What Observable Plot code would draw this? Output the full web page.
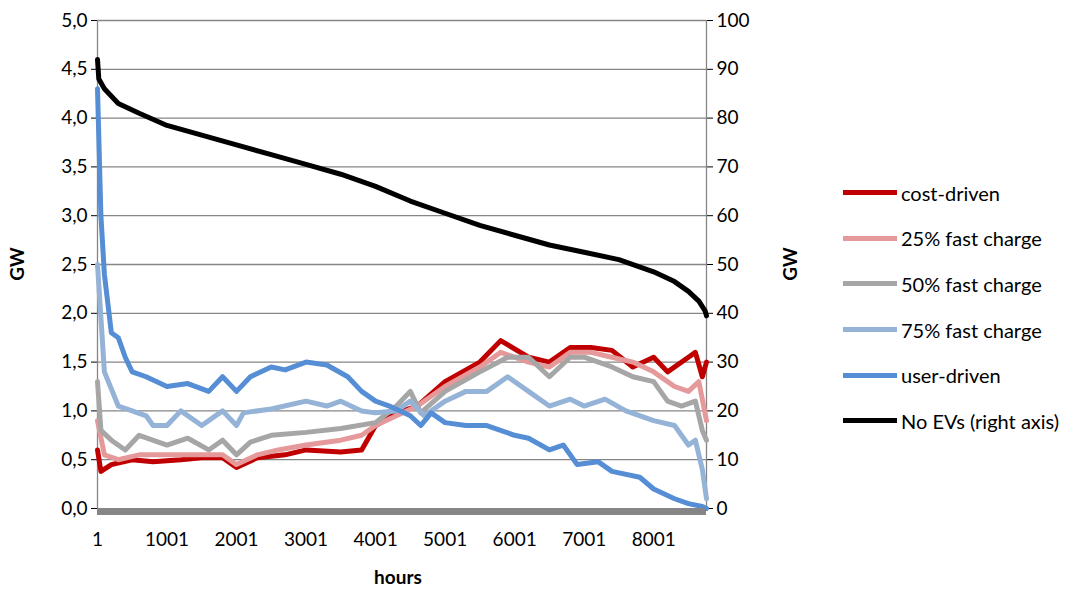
<!DOCTYPE html>
<html>
<head>
<meta charset="utf-8">
<script src="https://cdn.jsdelivr.net/npm/d3@7"></script>
<script src="https://cdn.jsdelivr.net/npm/@observablehq/plot@0.6"></script>
<style>
  body { margin: 0; background: #fff; font-family: Lato, "Open Sans", sans-serif; }
  #wrap { position: relative; width: 1089px; height: 590px; }
  #legend { position: absolute; left: 843px; top: 170px; font-size: 20px; color: #000; }
  .row { display: flex; align-items: center; height: 45.6px; }
  .sw { width: 54px; height: 5px; margin-right: 4px; }
</style>
</head>
<body>
<div id="wrap"><div id="legend"></div></div>
<script>
// hours vs GW for each scenario
const costHours = [1,50,200,500,800,1200,1500,1800,2000,2300,2700,3000,3500,3800,4000,4300,4600,5000,5500,5800,6200,6500,6800,7100,7400,7700,8000,8200,8500,8600,8700,8760];
const costGW    = [0.6,0.38,0.45,0.5,0.48,0.5,0.52,0.52,0.42,0.52,0.55,0.6,0.58,0.6,0.85,0.98,1.05,1.3,1.5,1.72,1.55,1.5,1.65,1.65,1.62,1.45,1.55,1.4,1.55,1.6,1.35,1.5];
const fc25Hours = [1,100,300,600,1000,1500,1800,2000,2300,2600,3000,3500,3800,4000,4300,4600,5000,5500,5800,6200,6500,6800,7100,7400,7700,8000,8300,8500,8650,8760];
const fc25GW    = [0.9,0.55,0.5,0.55,0.55,0.55,0.55,0.45,0.55,0.6,0.65,0.7,0.75,0.85,0.95,1.05,1.25,1.45,1.6,1.5,1.45,1.6,1.6,1.55,1.5,1.4,1.25,1.2,1.3,0.9];
const fc50Hours = [1,50,200,400,600,1000,1300,1600,1800,2000,2200,2500,3000,3500,4000,4300,4500,4650,5000,5500,5900,6200,6500,6800,7000,7400,7700,8000,8200,8400,8600,8700,8760];
const fc50GW    = [1.3,0.8,0.7,0.6,0.75,0.65,0.72,0.6,0.7,0.55,0.68,0.75,0.78,0.82,0.88,1.05,1.2,0.98,1.2,1.4,1.55,1.55,1.35,1.55,1.55,1.45,1.35,1.3,1.1,1.05,1.1,0.8,0.7];
const fc75Hours = [1,100,300,500,700,800,1000,1200,1500,1800,2000,2100,2500,3000,3300,3500,3800,4000,4300,4500,4700,5000,5300,5600,5900,6200,6500,6800,7000,7300,7600,8000,8300,8500,8600,8700,8760];
const fc75GW    = [2.5,1.4,1.05,1.0,0.95,0.85,0.85,1.0,0.85,1.0,0.85,0.98,1.02,1.1,1.05,1.1,1.0,0.98,1.0,1.1,0.95,1.1,1.2,1.2,1.35,1.2,1.05,1.12,1.05,1.12,1.0,0.9,0.85,0.65,0.7,0.4,0.1];
const userHours = [1,50,100,200,300,400,500,700,1000,1300,1600,1800,2000,2200,2500,2700,3000,3300,3600,3800,4000,4200,4500,4650,4800,5000,5300,5600,6000,6200,6500,6700,6900,7200,7400,7800,8000,8300,8500,8700,8760];
const userGW    = [4.3,3.0,2.4,1.8,1.75,1.55,1.4,1.35,1.25,1.28,1.2,1.35,1.2,1.35,1.45,1.42,1.5,1.47,1.35,1.2,1.1,1.05,0.95,0.85,0.98,0.88,0.85,0.85,0.75,0.72,0.6,0.65,0.45,0.48,0.38,0.32,0.2,0.1,0.05,0.02,0];
// No EVs, right axis (GW, 0-100)
const noEvHours = [1,20,100,300,600,1000,1500,2000,2500,3000,3500,4000,4500,5000,5500,6000,6500,7000,7500,8000,8300,8500,8650,8740,8760];
const noEvGW    = [92,88,86,83,81,78.5,76.5,74.5,72.5,70.5,68.5,66,63,60.5,58,56,54,52.5,51,48.5,46.5,44.5,42.5,40.5,39.5];

const series = [
  {name: "cost-driven", color: "#c00000", h: costHours, v: costGW},
  {name: "25% fast charge", color: "#e6999a", h: fc25Hours, v: fc25GW},
  {name: "50% fast charge", color: "#a6a6a6", h: fc50Hours, v: fc50GW},
  {name: "75% fast charge", color: "#95b3d7", h: fc75Hours, v: fc75GW},
  {name: "user-driven", color: "#558ed5", h: userHours, v: userGW},
  {name: "No EVs (right axis)", color: "#000000", h: noEvHours, v: noEvGW.map(d => d / 20)}
];
const rows = series.flatMap(s => s.h.map((h, i) => ({name: s.name, hour: h, gw: s.v[i]})));
const xTicks = [1,1001,2001,3001,4001,5001,6001,7001,8001];
const yTicks = d3.range(0, 5.01, 0.5);
const comma = d => d.toFixed(1).replace(".", ",");

const chart = Plot.plot({
  width: 1089, height: 590,
  marginLeft: 97, marginRight: 383, marginTop: 20, marginBottom: 82,
  style: {fontFamily: "Lato, 'Open Sans', sans-serif", fontSize: "19px", color: "#000"},
  x: {domain: [1, 8760]},
  y: {domain: [0, 5]},
  color: {domain: series.map(s => s.name), range: series.map(s => s.color)},
  marks: [
    Plot.gridY(yTicks.slice(1), {stroke: "#868686", strokeOpacity: 1, strokeWidth: 1.3}),
    Plot.axisX(xTicks, {tickSize: 0, tickPadding: 24, fontSize: 19, tickFormat: d => String(d), label: null}),
    Plot.axisY(yTicks, {tickFormat: comma, tickSize: 6, tickPadding: 4, fontSize: 19, label: null}),
    Plot.axisY(yTicks, {anchor: "right", tickFormat: d => Math.round(d * 20), tickSize: 6, tickPadding: 4, fontSize: 19, label: null}),
    Plot.ruleX([1, 8760], {stroke: "#868686", strokeWidth: 1.3}),
    Plot.lineY(rows, {x: "hour", y: "gw", stroke: "name", strokeWidth: 5, curve: "linear"}),
    Plot.ruleY([0], {stroke: "#868686", strokeWidth: 7, dy: 3})
  ]
});
document.getElementById("wrap").prepend(chart);

// axis titles
const svg = d3.select(chart);
svg.append("text").attr("transform", "translate(24,264) rotate(-90)").attr("text-anchor", "middle")
  .style("font-weight", "bold").style("font-size", "19px").text("GW");
svg.append("text").attr("transform", "translate(797,264) rotate(-90)").attr("text-anchor", "middle")
  .style("font-weight", "bold").style("font-size", "19px").text("GW");
svg.append("text").attr("x", 398).attr("y", 584).attr("text-anchor", "middle")
  .style("font-weight", "bold").style("font-size", "19px").text("hours");

const legend = d3.select("#legend");
series.forEach(s => {
  const r = legend.append("div").attr("class", "row");
  r.append("div").attr("class", "sw").style("background", s.color);
  r.append("span").text(s.name);
});
</script>
</body>
</html>
